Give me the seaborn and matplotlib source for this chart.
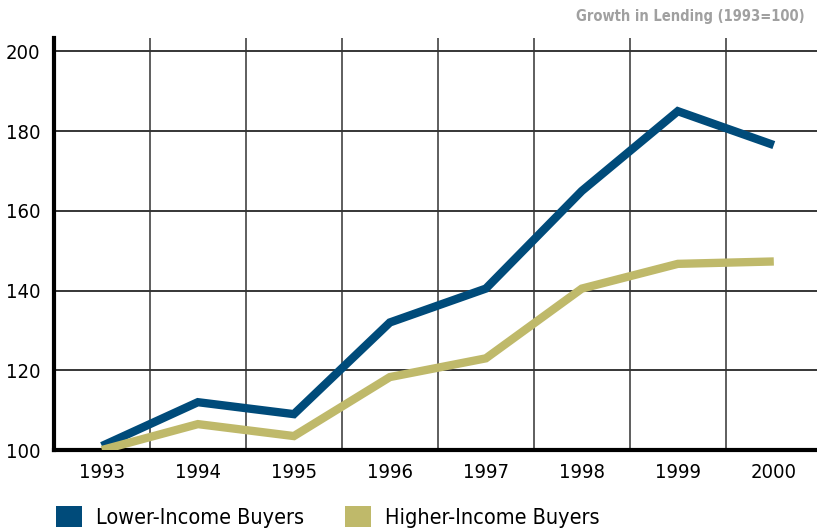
import pandas as pd
import matplotlib.pyplot as plt
import seaborn as sns
from matplotlib.patches import Patch

# Values (1993=100)
years = [1993, 1994, 1995, 1996, 1997, 1998, 1999, 2000]
lower_income = [101, 112, 109, 132, 140.5, 165, 185, 176.5]
higher_income = [100, 106.5, 103.5, 118.3, 123, 140.5, 146.7, 147.3]
series_names = ['Lower-Income Buyers', 'Higher-Income Buyers']
y_ticks = [100, 120, 140, 160, 180, 200]

data = pd.DataFrame({
    'Year': years * 2,
    'Index': lower_income + higher_income,
    'Group': [series_names[0]] * len(years) + [series_names[1]] * len(years),
})

sns.set_style('white')
plt.rcParams['font.family'] = ['DejaVu Sans']
plt.rcParams['font.stretch'] = 'condensed'
plt.rcParams['text.color'] = 'black'

colors = {'Lower-Income Buyers': '#004b7a', 'Higher-Income Buyers': '#bfb96a'}

fig = plt.figure(figsize=(8.17, 5.31), dpi=100)
ax = fig.add_axes([0.066, 0.1525, 0.934, 0.7755])

# grid
for y in y_ticks[1:]:
    ax.axhline(y, color='black', lw=1.1, zorder=1)
for x in years[:-1]:
    ax.axvline(x + 0.5, color='#333333', lw=1.1, zorder=1)

sns.lineplot(data=data, x='Year', y='Index', hue='Group', palette=colors,
             linewidth=6, legend=False, ax=ax, zorder=3)
for line in ax.get_lines()[-2:]:
    line.set_solid_joinstyle('miter')
    line.set_solid_capstyle('butt')

ax.set_xlim(1992.5, 2000.45)
ax.set_ylim(100, 203.3)
ax.set_xticks(years)
ax.set_xticklabels([str(y) for y in years], fontsize=14.5, color='black')
ax.set_yticks(y_ticks)
ax.set_yticklabels([str(y) for y in y_ticks], fontsize=14.5, color='black')
ax.tick_params(axis='both', length=0)
ax.tick_params(axis='y', pad=10)
ax.tick_params(axis='x', pad=9)
ax.set_xlabel('')
ax.set_ylabel('')

for side in ['top', 'right']:
    ax.spines[side].set_visible(False)
ax.spines['left'].set_linewidth(3)
ax.spines['bottom'].set_linewidth(3)
ax.spines['left'].set_color('black')
ax.spines['bottom'].set_color('black')

fig.text(0.985, 0.968, 'Growth in Lending (1993=100)', ha='right', va='center',
         fontsize=10.5, fontweight='bold', color='#a0a0a0')

handles = [Patch(facecolor=colors[n], edgecolor='none', label=n) for n in series_names]
fig.legend(handles=handles, loc='lower left', bbox_to_anchor=(0.045, -0.03), ncol=2,
           frameon=False, fontsize=15.5, handlelength=1.2, handleheight=1.15,
           handletextpad=0.65, columnspacing=1.9)

fig.savefig('out.png', dpi=100)
